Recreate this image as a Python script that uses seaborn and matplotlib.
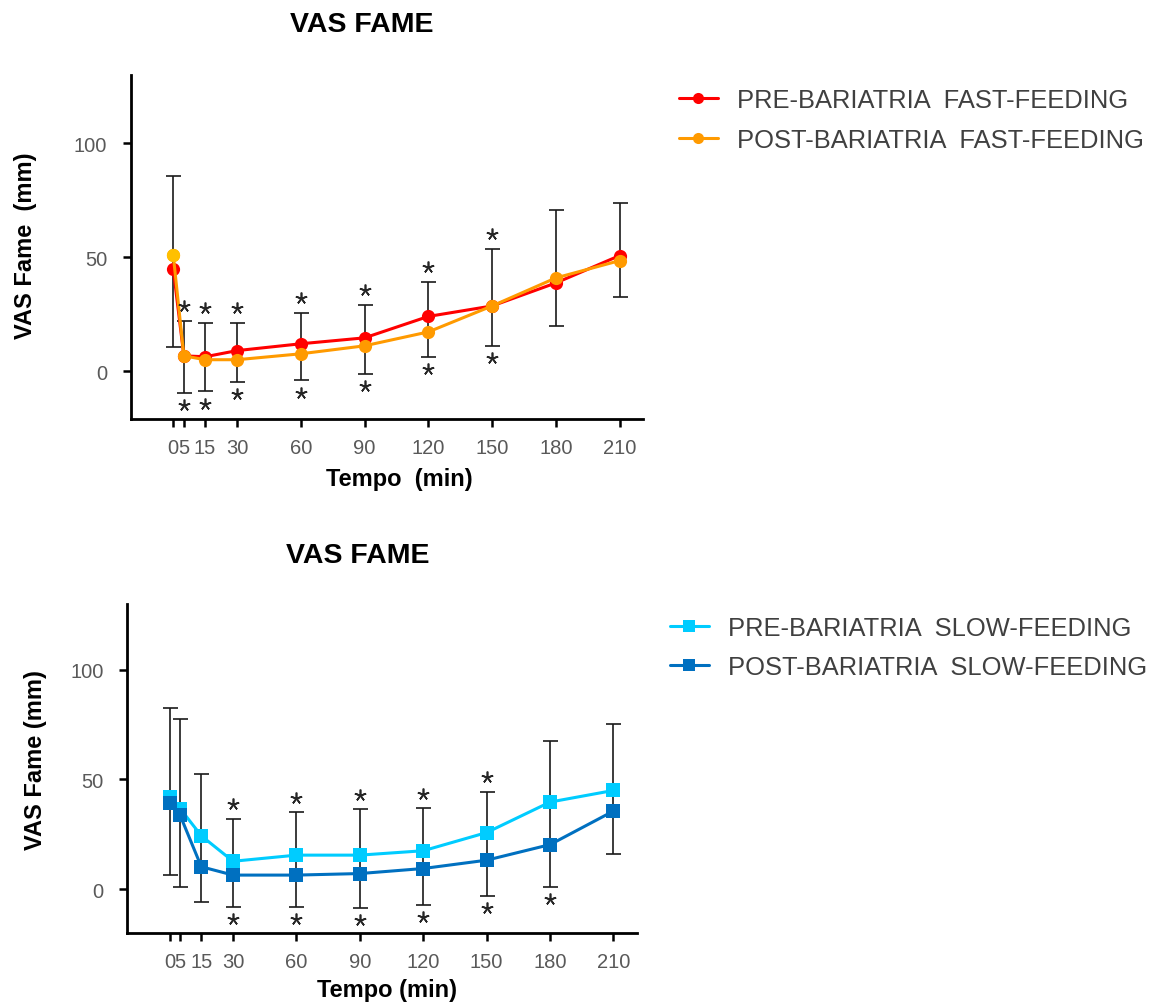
import numpy as np
import pandas as pd
import matplotlib
matplotlib.use("Agg")
import matplotlib.pyplot as plt
import seaborn as sns

# ---------------- data ----------------
time_min = [0, 5, 15, 30, 60, 90, 120, 150, 180, 210]
x_tick_labels = ["0", "5", "15", "30", "60", "90", "120", "150", "180", "210"]
y_ticks = [0, 50, 100]

pre_fast = [44.9, 6.7, 6.3, 9.0, 12.0, 14.6, 24.0, 28.6, 38.7, 50.7]
post_fast = [51.0, 6.7, 5.0, 5.0, 7.6, 11.1, 17.2, 28.6, 40.9, 48.5]
fast_err_hi = [85.8, 22.2, 21.3, 21.3, 25.6, 29.1, 39.2, 53.5, 70.7, 73.7]
fast_err_lo = [10.7, -9.5, -8.8, -4.7, -4.1, -1.2, 6.3, 11.2, 20.0, 32.5]
fast_star_hi = [0, 1, 1, 1, 1, 1, 1, 1, 0, 0]
fast_star_lo = [0, 1, 1, 1, 1, 1, 1, 1, 0, 0]

pre_slow = [42.0, 36.7, 24.3, 12.7, 15.5, 15.5, 17.5, 25.8, 39.7, 45.0]
post_slow = [39.3, 33.6, 10.2, 6.4, 6.4, 7.1, 9.4, 13.2, 20.3, 35.6]
slow_err_hi = [82.6, 77.6, 52.6, 32.1, 35.2, 36.4, 37.0, 44.5, 67.7, 75.3]
slow_err_lo = [6.4, 1.1, -6.0, -8.0, -8.0, -8.8, -7.3, -3.2, 0.8, 15.9]
slow_star_hi = [0, 0, 0, 1, 1, 1, 1, 1, 0, 0]
slow_star_lo = [0, 0, 0, 1, 1, 1, 1, 1, 1, 0]

fast_labels = ["PRE-BARIATRIA  FAST-FEEDING", "POST-BARIATRIA  FAST-FEEDING"]
slow_labels = ["PRE-BARIATRIA  SLOW-FEEDING", "POST-BARIATRIA  SLOW-FEEDING"]

# ---------------- style ----------------
sns.set_style("ticks")
plt.rcParams["font.family"] = ["Liberation Sans", "DejaVu Sans"]

fig = plt.figure(figsize=(11.63, 10.03), dpi=100)
ax1 = fig.add_axes([0.1124, 0.5813, 0.4405, 0.343])
ax2 = fig.add_axes([0.1095, 0.0688, 0.438, 0.328])

TICK_COLOR = "#595959"
TEXT_COLOR = "#404040"


def panel(ax, pre, post, lo, hi, s_hi, s_lo, c_pre, c_post, marker, ms,
          labels, ylim, first_color=None):
    df = pd.DataFrame({"t": time_min, "pre": pre, "post": post})
    lo = np.asarray(lo, float)
    hi = np.asarray(hi, float)
    xs = np.asarray(time_min, float)

    ax.errorbar(xs, (lo + hi) / 2, yerr=(hi - lo) / 2, fmt="none",
                ecolor="#1a1a1a", elinewidth=1.2, capsize=5.4, capthick=1.2,
                zorder=2)

    sns.lineplot(data=df, x="t", y="pre", color=c_pre, marker=marker,
                 markersize=ms, markeredgewidth=0, linewidth=2.2, ax=ax,
                 label=labels[0], zorder=3)
    sns.lineplot(data=df, x="t", y="post", color=c_post, marker=marker,
                 markersize=ms, markeredgewidth=0, linewidth=2.2, ax=ax,
                 label=labels[1], zorder=4)
    if first_color is not None:
        ax.plot(xs[:1], np.asarray(post)[:1], ls="none", marker=marker,
                markersize=ms, markeredgewidth=0, color=first_color, zorder=5)

    m_hi = np.asarray(s_hi, bool)
    m_lo = np.asarray(s_lo, bool)
    star_kw = dict(ls="none", marker=(5, 2, 0), markersize=8.5,
                   markeredgecolor="#262626", markeredgewidth=1.2, zorder=6)
    ax.plot(xs[m_hi], hi[m_hi] + 6.5, **star_kw)
    ax.plot(xs[m_lo], lo[m_lo] - 5.5, **star_kw)

    ax.set_xlim(-20, 221)
    ax.set_ylim(*ylim)
    ax.set_xticks(time_min)
    ax.set_xticklabels(x_tick_labels)
    ax.set_yticks(y_ticks)
    ax.tick_params(axis="both", direction="out", length=6, width=1.8,
                   color="black", labelsize=14.5, labelcolor=TICK_COLOR)
    ax.tick_params(axis="x", pad=8)
    ax.tick_params(axis="y", pad=11)
    sns.despine(ax=ax)
    for s in ("left", "bottom"):
        ax.spines[s].set_linewidth(2.0)
        ax.spines[s].set_color("black")


panel(ax1, pre_fast, post_fast, fast_err_lo, fast_err_hi, fast_star_hi,
      fast_star_lo, "#FF0000", "#FF9A00", "o", 9.5, fast_labels, (-21, 130),
      first_color="#FFC000")
panel(ax2, pre_slow, post_slow, slow_err_lo, slow_err_hi, slow_star_hi,
      slow_star_lo, "#00CCFF", "#0070C0", "s", 9.5, slow_labels, (-20, 130))

# axis labels
ax1.set_ylabel("VAS Fame  (mm)", fontsize=17, fontweight="bold", color="black")
ax1.set_xlabel("Tempo  (min)", fontsize=17, fontweight="bold", color="black")
ax2.set_ylabel("VAS Fame (mm)", fontsize=17, fontweight="bold", color="black")
ax2.set_xlabel("Tempo (min)", fontsize=17, fontweight="bold", color="black")
for ax, ycoords, xcoords in ((ax1, (-0.206, 0.505), (0.524, -0.172)),
                             (ax2, (-0.181, 0.53), (0.51, -0.172))):
    ax.yaxis.label.set_va("center")
    ax.xaxis.label.set_va("center")
    ax.yaxis.set_label_coords(*ycoords)
    ax.xaxis.set_label_coords(*xcoords)

# titles
fig.text(362 / 1163, 1 - 25 / 1003, "VAS FAME", ha="center", va="center",
         fontsize=20.5, fontweight="bold", color="black")
fig.text(358 / 1163, 1 - 556 / 1003, "VAS FAME", ha="center", va="center",
         fontsize=20.5, fontweight="bold", color="black")

# legends
for ax, anchor in ((ax1, (0.5838, 0.911)), (ax2, (0.5761, 0.3853))):
    h, l = ax.get_legend_handles_labels()
    leg = ax.legend(h, l, loc="upper left", bbox_to_anchor=anchor,
                    bbox_transform=fig.transFigure, frameon=False,
                    fontsize=18.4, borderpad=0, borderaxespad=0,
                    handlelength=1.52, handletextpad=0.74, labelspacing=0.62)
    for t in leg.get_texts():
        t.set_color(TEXT_COLOR)
    for ln in leg.get_lines():
        ln.set_markersize(8)

fig.savefig("out.png", dpi=100)
